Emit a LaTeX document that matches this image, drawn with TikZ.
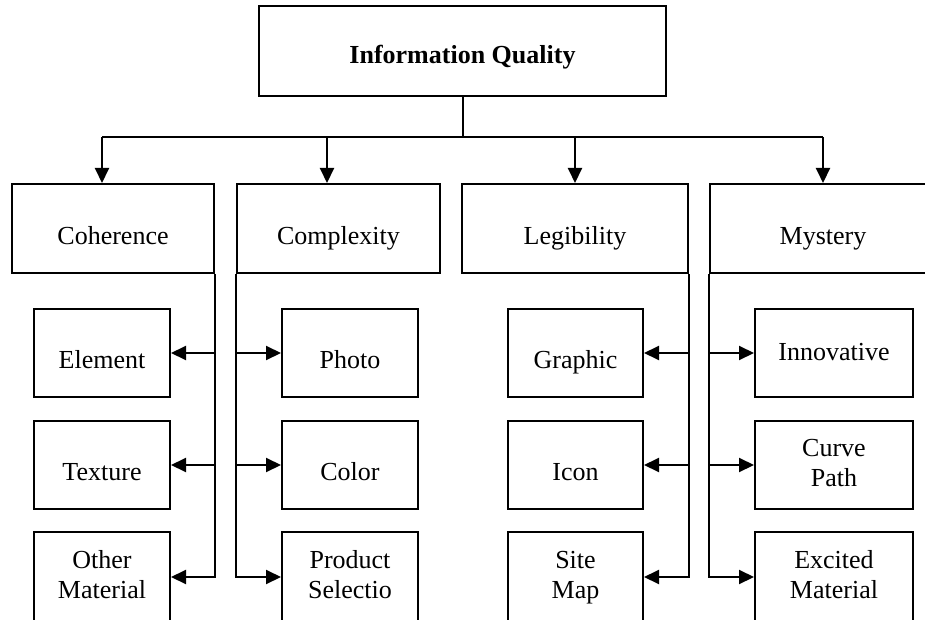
\documentclass[tikz,border=0pt]{standalone}
\usepackage{fontspec}
\setmainfont{Liberation Serif}
\usetikzlibrary{arrows.meta}
\tikzset{
  box/.style={draw=black, line width=2pt, rectangle, inner sep=0pt, align=center,
    font=\fontsize{26}{30}\selectfont},
  one/.style={box, text height=31pt, text depth=0pt},
  onehi/.style={box, text height=14pt, text depth=0pt},
  two/.style={box},
  link/.style={line width=2pt},
  arr/.style={line width=2pt, -{Triangle[length=15pt,width=14pt]}},
}
\begin{document}
\begin{tikzpicture}[x=1pt, y=-1pt]
\useasboundingbox (0,0) rectangle (925,620);
\clip (0,0) rectangle (925,620);
% top
\node[box, minimum width=407pt, minimum height=90pt, text height=26pt, text depth=0pt,
  font=\fontsize{26}{30}\selectfont\bfseries] (iq) at (462.5,51) {Information Quality};
% level 2
\node[one, minimum width=202pt, minimum height=89pt] (coh) at (113,228.5) {Coherence};
\node[one, minimum width=203pt, minimum height=89pt] (com) at (338.5,228.5) {Complexity};
\node[one, minimum width=226pt, minimum height=89pt] (leg) at (575,228.5) {Legibility};
\node[one, minimum width=226pt, minimum height=89pt] (mys) at (823,228.5) {Mystery};
% level 3 coherence
\node[one, minimum width=136pt, minimum height=88pt] (ele) at (102,353) {Element};
\node[one, minimum width=136pt, minimum height=88pt] (tex) at (102,465) {Texture};
\node[two, minimum width=136pt, minimum height=90pt] (oth) at (102,577) {\strut Other\\\strut Material};
% complexity
\node[one, minimum width=136pt, minimum height=88pt] (pho) at (350,353) {Photo};
\node[one, minimum width=136pt, minimum height=88pt] (col) at (350,465) {Color};
\node[two, minimum width=136pt, minimum height=90pt] (pro) at (350,577) {\strut Product\\\strut Selectio};
% legibility
\node[one, minimum width=135pt, minimum height=88pt] (gra) at (575.5,353) {Graphic};
\node[one, minimum width=135pt, minimum height=88pt] (ico) at (575.5,465) {Icon};
\node[two, minimum width=135pt, minimum height=90pt] (sit) at (575.5,577) {\strut Site\\\strut Map};
% mystery
\node[onehi, minimum width=158pt, minimum height=88pt] (inn) at (834,353) {Innovative};
\node[two, minimum width=158pt, minimum height=88pt] (cur) at (834,465) {\strut Curve\\\strut Path};
\node[two, minimum width=158pt, minimum height=90pt] (exc) at (834,577) {\strut Excited\\\strut Material};
% bus
\coordinate (j) at (463,137);
\coordinate (b1) at (102,137);
\coordinate (b2) at (327,137);
\coordinate (b3) at (575,137);
\coordinate (b4) at (823,137);
\draw[link] (iq.south -| j) -- (j);
\draw[link] (b1) -- (b4);
\draw[arr] (b1) -- (b1 |- coh.north);
\draw[arr] (b2) -- (b2 |- com.north);
\draw[arr] (b3) -- (b3 |- leg.north);
\draw[arr] (b4) -- (b4 |- mys.north);
% coherence spine
\draw[arr] (coh.south east) |- (oth.east);
\draw[arr] (coh.east |- ele.east) -- (ele.east);
\draw[arr] (coh.east |- tex.east) -- (tex.east);
% complexity spine
\draw[arr] (com.south west) |- (pro.west);
\draw[arr] (com.west |- pho.west) -- (pho.west);
\draw[arr] (com.west |- col.west) -- (col.west);
% legibility spine
\draw[arr] (leg.south east) |- (sit.east);
\draw[arr] (leg.east |- gra.east) -- (gra.east);
\draw[arr] (leg.east |- ico.east) -- (ico.east);
% mystery spine
\draw[arr] (mys.south west) |- (exc.west);
\draw[arr] (mys.west |- inn.west) -- (inn.west);
\draw[arr] (mys.west |- cur.west) -- (cur.west);
\end{tikzpicture}
\end{document}
